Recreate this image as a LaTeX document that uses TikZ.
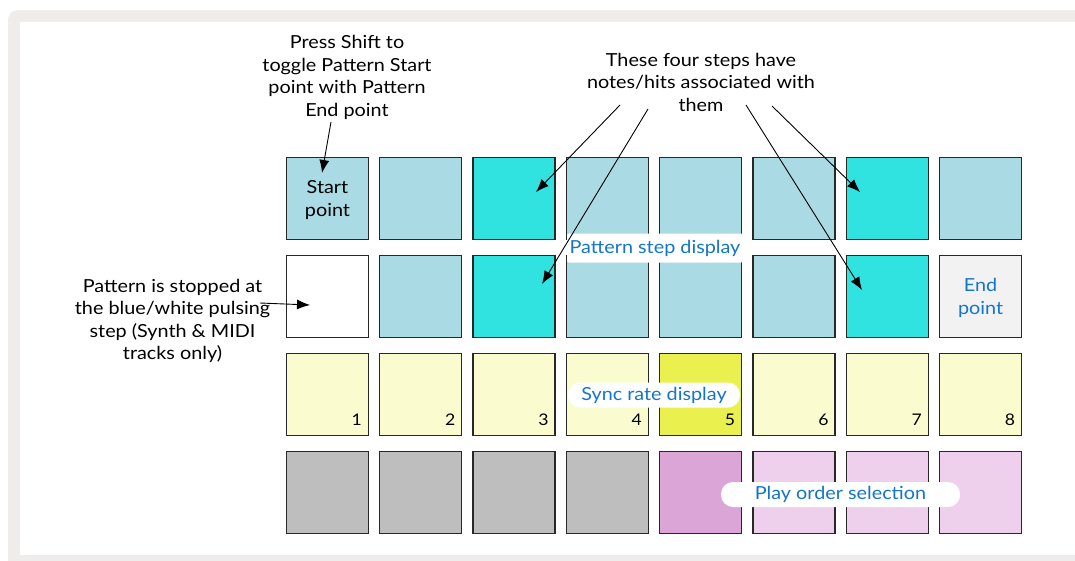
\documentclass[tikz,border=0pt]{standalone}
\usepackage{fontspec}
\setmainfont{Lato}[FakeStretch=1.1]
\usetikzlibrary{arrows.meta,calc}
\definecolor{framegray}{RGB}{239,236,236}
\definecolor{lb}{RGB}{170,219,229}
\definecolor{cy}{RGB}{48,226,224}
\definecolor{wh}{RGB}{255,255,255}
\definecolor{endg}{RGB}{242,242,242}
\definecolor{py}{RGB}{250,252,208}
\definecolor{yel}{RGB}{234,240,78}
\definecolor{gr}{RGB}{190,190,190}
\definecolor{pu}{RGB}{219,165,216}
\definecolor{lpu}{RGB}{239,208,236}
\definecolor{bluetxt}{RGB}{20,118,200}
\definecolor{padedge}{RGB}{40,40,40}
\begin{document}
\begin{tikzpicture}[x=1pt,y=-1pt,
  pad/.style={draw=padedge, line width=1.3pt, minimum size=82pt, inner sep=0pt, rectangle},
  lbl/.style={align=center, font=\fontsize{18}{22.5}\selectfont, inner sep=0pt},
  num/.style={font=\fontsize{16}{19}\selectfont, inner sep=0pt, anchor=base east},
  pill/.style={fill=white, text=bluetxt, font=\fontsize{18}{20}\selectfont, rounded corners=12pt, minimum height=25pt, inner sep=0pt},
  arr/.style={-{Latex[length=13pt,width=10pt]}, line width=0.9pt, black}]
\useasboundingbox (0,0) rectangle (1075,560);
\fill[framegray, rounded corners=10pt] (8,10) rectangle (1095,580);
\fill[white] (20,22) rectangle (1095,555);
% pads
\foreach \r/\cols in {1/{lb,lb,cy,lb,lb,lb,cy,lb},2/{wh,lb,cy,lb,lb,lb,cy,endg},3/{py,py,py,py,yel,py,py,py},4/{gr,gr,gr,gr,pu,lpu,lpu,lpu}}{
  \foreach \c [count=\i] in \cols {
    \node[pad, fill=\c] (p\r\i) at ({327.5+93.3*(\i-1)},{198.5+98*(\r-1)}) {};
  }
}
% numbers
\foreach \i in {1,...,8}{
  \node[num] (n\i) at ($(p3\i.south east)+(-7,-11)$) {\i};
}
% pad texts
\node[lbl] (startlbl) at ($(p11.center)+(0,1.5)$) {Start\\point};
\node[lbl, text=bluetxt] (endlbl) at ($(p28.center)+(0,1.5)$) {End\\point};
% pills
\node[pill, rounded corners=2pt, minimum width=176pt, minimum height=29pt] (psd) at (655,248) {Pattern step display};
\node[pill, minimum width=172pt] (srd) at (654,395) {Sync rate display};
\node[pill, minimum width=239pt] (pos) at (840.5,494.5) {Play order selection};
% annotation texts
\node[lbl] (press) at (347,77.5) {Press Shift to\\toggle Pattern Start\\point with Pattern\\End point};
\node[lbl] (four) at (701,82) {These four steps have\\notes/hits associated with\\them};
\node[lbl] (stopped) at (172.5,321) {Pattern is stopped at\\the blue/white pulsing\\step (Synth \& MIDI\\tracks only)};
% arrow end points
\coordinate (a0s) at (331,122); \coordinate (a0t) at (322,173);
\coordinate (a1s) at (620,105); \coordinate (a1t) at (536,192);
\coordinate (a2s) at (648,109); \coordinate (a2t) at (542,284);
\coordinate (a3s) at (746,105); \coordinate (a3t) at (862,290);
\coordinate (a4s) at (772,106); \coordinate (a4t) at (860,192);
\coordinate (a5s) at (260,303); \coordinate (a5t) at (310,305);
\draw[arr] (a0s) -- (a0t);
\draw[arr] (a1s) -- (a1t);
\draw[arr] (a2s) -- (a2t);
\draw[arr] (a3s) -- (a3t);
\draw[arr] (a4s) -- (a4t);
\draw[arr] (a5s) -- (a5t);
\end{tikzpicture}
\end{document}
